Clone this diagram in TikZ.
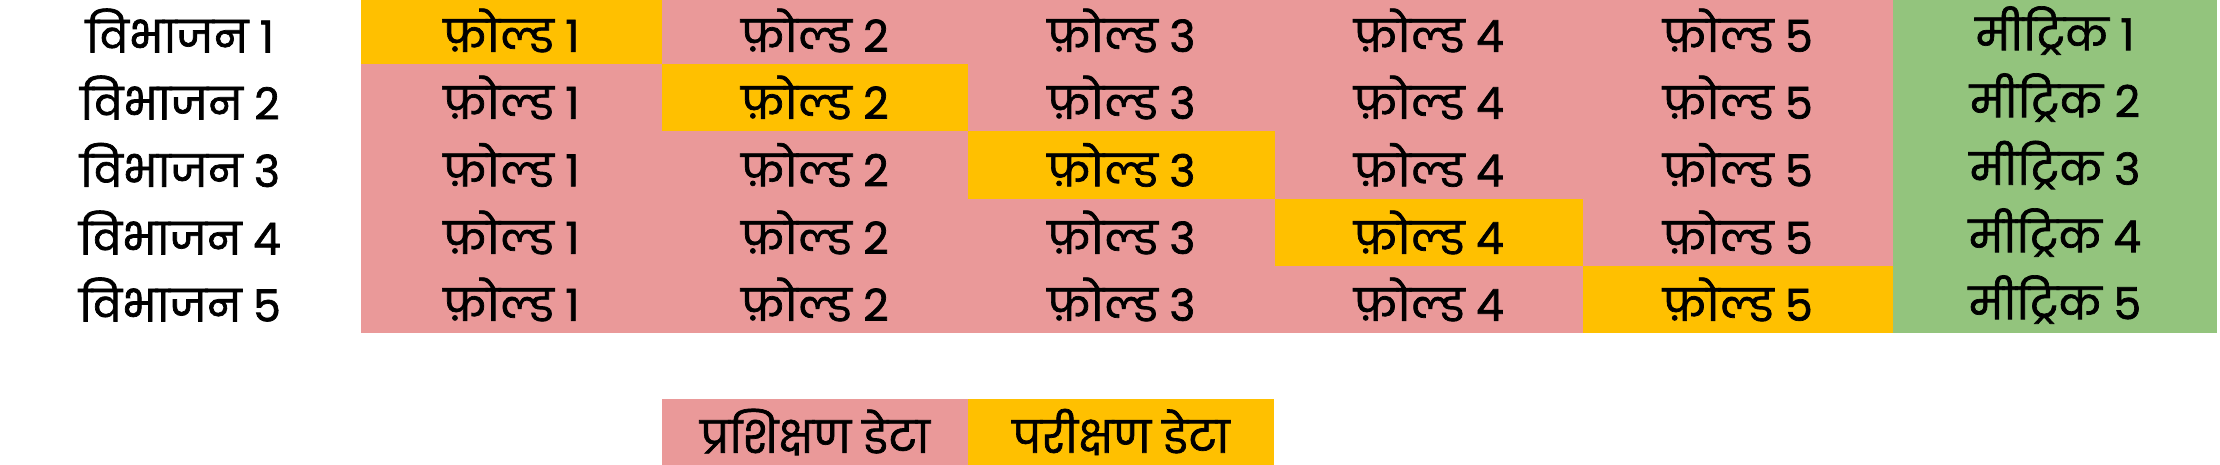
\documentclass[tikz,border=0pt]{standalone}
\usepackage{fontspec}
\newfontfamily\devfont[Script=Devanagari,FakeBold=1.6]{Poppins}
\definecolor{pinkc}{HTML}{EA9999}
\definecolor{yelc}{HTML}{FFC000}
\definecolor{greenc}{HTML}{93C47D}
\begin{document}
\begin{tikzpicture}[x=1pt,y=-1pt,
  cell/.style={inner sep=0pt, outer sep=0pt, anchor=center, font=\devfont\fontsize{44}{50}\selectfont, text=black},
  lbl/.style={inner sep=0pt, anchor=center, font=\devfont\fontsize{44}{50}\selectfont, text=black}]
\useasboundingbox (0,0) rectangle (2220,464);
\def\colb{{361,662,968,1275,1583,1893,2217}}
\def\rowb{{-3,64,131,199,266,333}}
\foreach \r in {1,...,5}{
  \pgfmathsetmacro{\ytop}{\rowb[\r-1]}
  \pgfmathsetmacro{\ybot}{\rowb[\r]}
  \pgfmathsetmacro{\yc}{(\ytop+\ybot)/2}
  \node[lbl] (s\r) at (180,\yc) {विभाजन \r};
  \foreach \c in {1,...,5}{
    \pgfmathsetmacro{\xl}{\colb[\c-1]}
    \pgfmathsetmacro{\xr}{\colb[\c]}
    \pgfmathsetmacro{\xc}{(\xl+\xr)/2}
    \pgfmathsetmacro{\w}{\xr-\xl}
    \pgfmathsetmacro{\h}{\ybot-\ytop}
    \ifnum\c=\r
      \def\fc{yelc}
    \else
      \def\fc{pinkc}
    \fi
    \node[cell, fill=\fc, minimum width=\w pt, minimum height=\h pt] (c\r\c) at (\xc,\yc) {फ़ोल्ड \c};
  }
  \pgfmathsetmacro{\h}{\ybot-\ytop}
  \node[cell, fill=greenc, minimum width=324pt, minimum height=\h pt] (m\r) at (2055,\yc) {मीट्रिक \r};
}
\node[cell, fill=pinkc, minimum width=306pt, minimum height=66pt] (train) at (815,432) {प्रशिक्षण डेटा};
\node[cell, fill=yelc, minimum width=306pt, minimum height=66pt] (test) at (1121,432) {परीक्षण डेटा};
\end{tikzpicture}
\end{document}
